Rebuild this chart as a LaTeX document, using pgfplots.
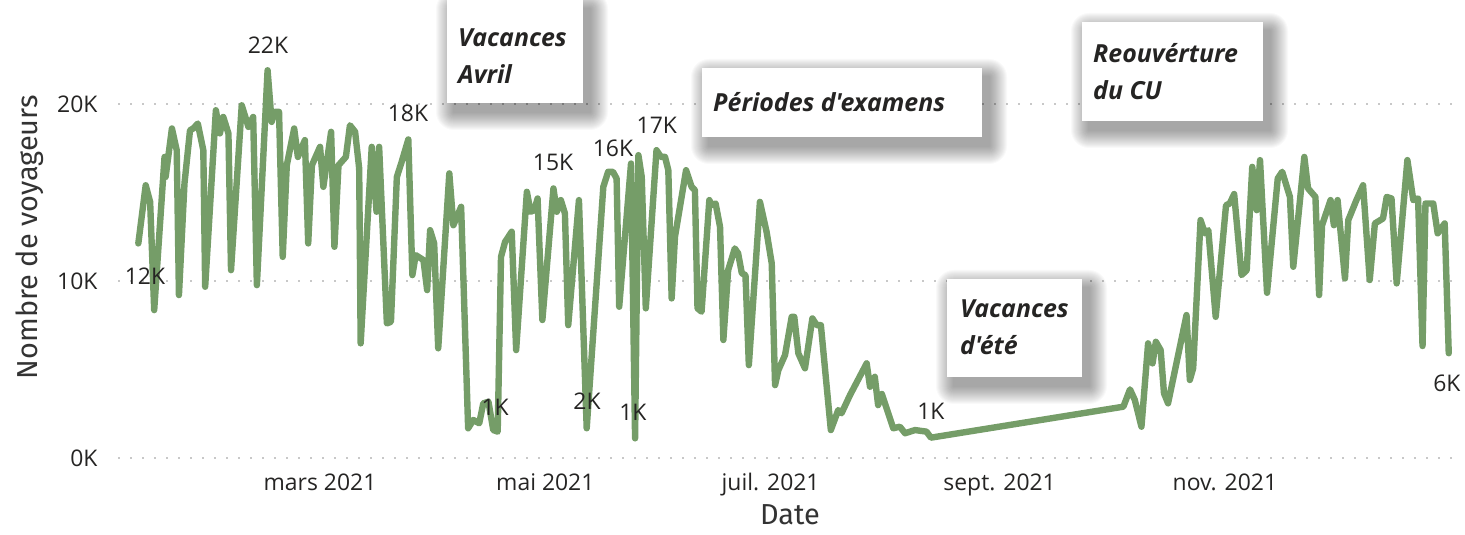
\documentclass[border=0pt]{standalone}
\usepackage{pgfplots}
\pgfplotsset{compat=1.18}
\usepackage{fontspec}
\setmainfont{Open Sans}
\newfontfamily\boxfont{Open Sans}
\newfontfamily\titlefont{Fira Sans}
\definecolor{linegreen}{HTML}{759D68}
\definecolor{gridgray}{HTML}{C8C8C8}
\definecolor{txt}{HTML}{252423}
\definecolor{ttl}{HTML}{333333}
\newcommand\shadowbox[4]{%
  \foreach \i in {1,...,18}{%
    \fill[black, opacity=0.022, rounded corners=\i bp]
      ({#1bp+7bp-\i bp},{#2bp-9bp-\i bp}) rectangle ({#3bp+7bp+\i bp},{#4bp-9bp+\i bp});
  }%
  \fill[white] (#1bp,#2bp) rectangle (#3bp,#4bp);%
}
\begin{document}
\begin{tikzpicture}
\useasboundingbox (0,0) rectangle (1465bp,535bp);
\begin{axis}[
  at={(118bp,77bp)}, anchor=south west,
  width=1337bp, height=398bp, scale only axis,
  xmin=5.3, xmax=367.3, ymin=0, ymax=22.5,
  axis line style={draw=none},
  major tick length=0pt,
  xtick={60,121,182,244,305},
  xticklabels={mars 2021, mai 2021, juil. 2021, sept. 2021, nov. 2021},
  ytick={0,10,20},
  yticklabels={0K,10K,20K},
  ymajorgrids,
  grid style={gridgray, line width=1.6bp, dash pattern=on 1.6bp off 10.4bp},
  tick label style={font=\fontsize{23}{26}\selectfont, text=txt},
  xticklabel style={yshift=-12bp},
  yticklabel style={xshift=-17bp},
  xlabel={Date},
  ylabel={Nombre de voyageurs},
  label style={font=\titlefont\fontsize{29}{32}\selectfont, text=ttl, inner sep=0pt},
  xlabel style={at={(axis description cs:0.5026,-0.143)}, anchor=center},
  ylabel style={at={(axis description cs:-0.0658,0.555)}, anchor=center, rotate=0},
  clip=false,
]
\addplot[linegreen, line width=6.4bp, line join=round, line cap=round] coordinates {
(10.8,12.13) (12.8,15.42) (14.0,14.48) (15.1,8.36) (17.9,17.02) (18.2,15.89)
(19.9,18.63) (21.2,17.40) (21.8,9.21) (23.3,15.52) (24.8,18.53) (25.7,18.63)
(26.9,18.91) (28.4,17.40) (28.9,9.68) (31.8,19.66) (32.9,18.35) (33.8,19.28)
(35.2,18.35) (35.9,10.62) (38.8,19.94) (40.2,19.00) (40.6,18.72) (41.9,19.28)
(42.9,9.77) (45.8,21.92) (46.9,19.00) (47.8,19.57) (48.9,19.57) (49.9,11.37)
(51.0,16.55) (53.0,18.63) (54.0,17.02) (55.9,17.97) (56.8,12.13) (57.8,16.55)
(60.0,17.59) (60.9,15.33) (63.0,18.44) (63.9,11.94) (65.0,16.55) (67.0,17.02)
(68.1,18.81) (69.5,18.44) (70.6,16.37) (71.0,6.48) (74.0,17.59) (75.3,13.92)
(76.0,17.59) (78.1,7.61) (79.2,7.70) (80.8,15.89) (82.1,16.74) (83.9,18.01)
(85.0,10.34) (85.9,11.47) (88.0,11.19) (89.0,9.49) (89.8,12.88) (90.9,12.13)
(92.0,6.20) (95.0,16.09) (96.1,13.16) (98.2,14.20) (100.1,1.68) (101.5,2.15)
(103.1,1.96) (104.2,3.09) (105.6,3.18) (106.9,1.58) (108.1,1.49) (109.0,11.37)
(110.1,12.22) (111.9,12.79) (113.1,6.10) (116.0,15.05) (117.0,13.92) (118.0,14.01)
(118.9,14.67) (120.2,7.80) (123.2,15.24) (124.1,13.92) (125.2,14.58) (126.3,13.83)
(127.2,7.51) (130.1,14.58) (132.2,1.68) (136.7,15.33) (138.0,16.18) (139.3,16.18)
(140.3,15.80) (141.0,8.55) (144.2,16.65) (145.3,1.11) (146.2,17.12) (147.1,15.89)
(148.2,8.46) (151.1,17.40) (152.3,17.02) (153.4,17.02) (154.3,16.27) (155.2,9.02)
(156.1,12.50) (159.1,16.27) (160.6,15.33) (161.5,15.14) (162.2,8.46) (163.3,8.27)
(165.4,14.58) (166.0,14.29) (167.1,14.39) (168.3,13.07) (169.2,6.67) (170.5,10.62)
(172.3,11.85) (173.2,11.57) (174.2,10.44) (175.2,10.34) (176.1,5.25) (179.1,14.48)
(180.9,12.79) (182.3,11.00) (183.2,4.12) (184.1,4.97) (185.9,5.82) (187.7,7.98)
(188.4,7.98) (189.5,5.92) (191.3,5.07) (193.3,7.89) (194.5,7.51) (195.6,7.51)
(198.3,1.58) (200.3,2.71) (201.2,2.53) (203.5,3.56) (208.0,5.35) (208.9,4.03)
(210.2,4.59) (211.1,2.99) (212.1,3.62) (215.2,1.68) (217.0,1.77) (218.4,1.40)
(221.1,1.58) (224.2,1.49) (225.4,1.15) (277.5,2.90) (279.3,3.88) (280.6,3.28)
(282.4,1.77) (284.2,6.48) (285.4,5.35) (286.3,6.57) (287.6,6.10) (288.5,3.66)
(289.6,3.09) (294.6,8.08) (295.5,4.41) (296.4,5.07) (298.4,13.45) (299.6,12.70)
(300.5,12.88) (302.5,7.98) (305.3,14.29) (306.3,14.39) (307.5,14.92) (309.5,10.34)
(310.9,10.62) (312.4,16.46) (313.6,14.01) (314.5,16.84) (316.4,9.34) (319.3,15.80)
(320.5,16.18) (322.6,14.76) (323.5,10.81) (326.5,17.02) (327.5,15.24) (329.5,14.76)
(330.5,9.21) (331.3,13.16) (333.6,14.58) (334.5,13.16) (335.5,14.58) (337.5,10.15)
(338.4,13.45) (340.6,14.58) (342.4,15.42) (344.2,10.06) (345.6,13.26) (347.8,13.54)
(348.8,14.76) (350.1,14.67) (351.5,9.87) (354.4,16.84) (356.0,14.58) (357.3,14.67)
(358.5,6.33) (359.3,14.39) (361.4,14.39) (362.6,12.70) (364.5,13.26) (365.6,5.92)
};
\begin{scope}[every node/.style={font=\fontsize{23}{26}\selectfont, text=txt, inner sep=0pt, anchor=center}]
\node at (axis cs:12.6,10.28) {12K};
\node at (axis cs:45.9,23.33) {22K};
\node at (axis cs:83.8,19.49) {18K};
\node at (axis cs:107.4,2.88) {1K};
\node at (axis cs:123.1,16.72) {15K};
\node at (axis cs:132.3,3.22) {2K};
\node at (axis cs:139.3,17.51) {16K};
\node at (axis cs:144.7,2.60) {1K};
\node at (axis cs:151.2,18.81) {17K};
\node at (axis cs:225.4,2.66) {1K};
\node at (axis cs:365.1,4.24) {6K};
\end{scope}
\end{axis}
% annotation boxes
\tikzset{anntext/.style={font=\boxfont\fontsize{25}{37}\selectfont\bfseries\itshape, text=txt, inner sep=0pt, anchor=west, align=left}}
\shadowbox{447}{432}{583}{535}
\node[anntext] at (458bp,478.5bp) {Vacances\\Avril};
\shadowbox{702}{398}{982}{467}
\node[anntext] at (713bp,433bp) {Périodes d'examens};
\shadowbox{947}{158}{1082}{256}
\node[anntext] at (960bp,207.5bp) {Vacances\\d'été};
\shadowbox{1082}{414}{1263}{513}
\node[anntext] at (1093bp,463.5bp) {Reouvérture\\du CU};
\end{tikzpicture}
\end{document}
